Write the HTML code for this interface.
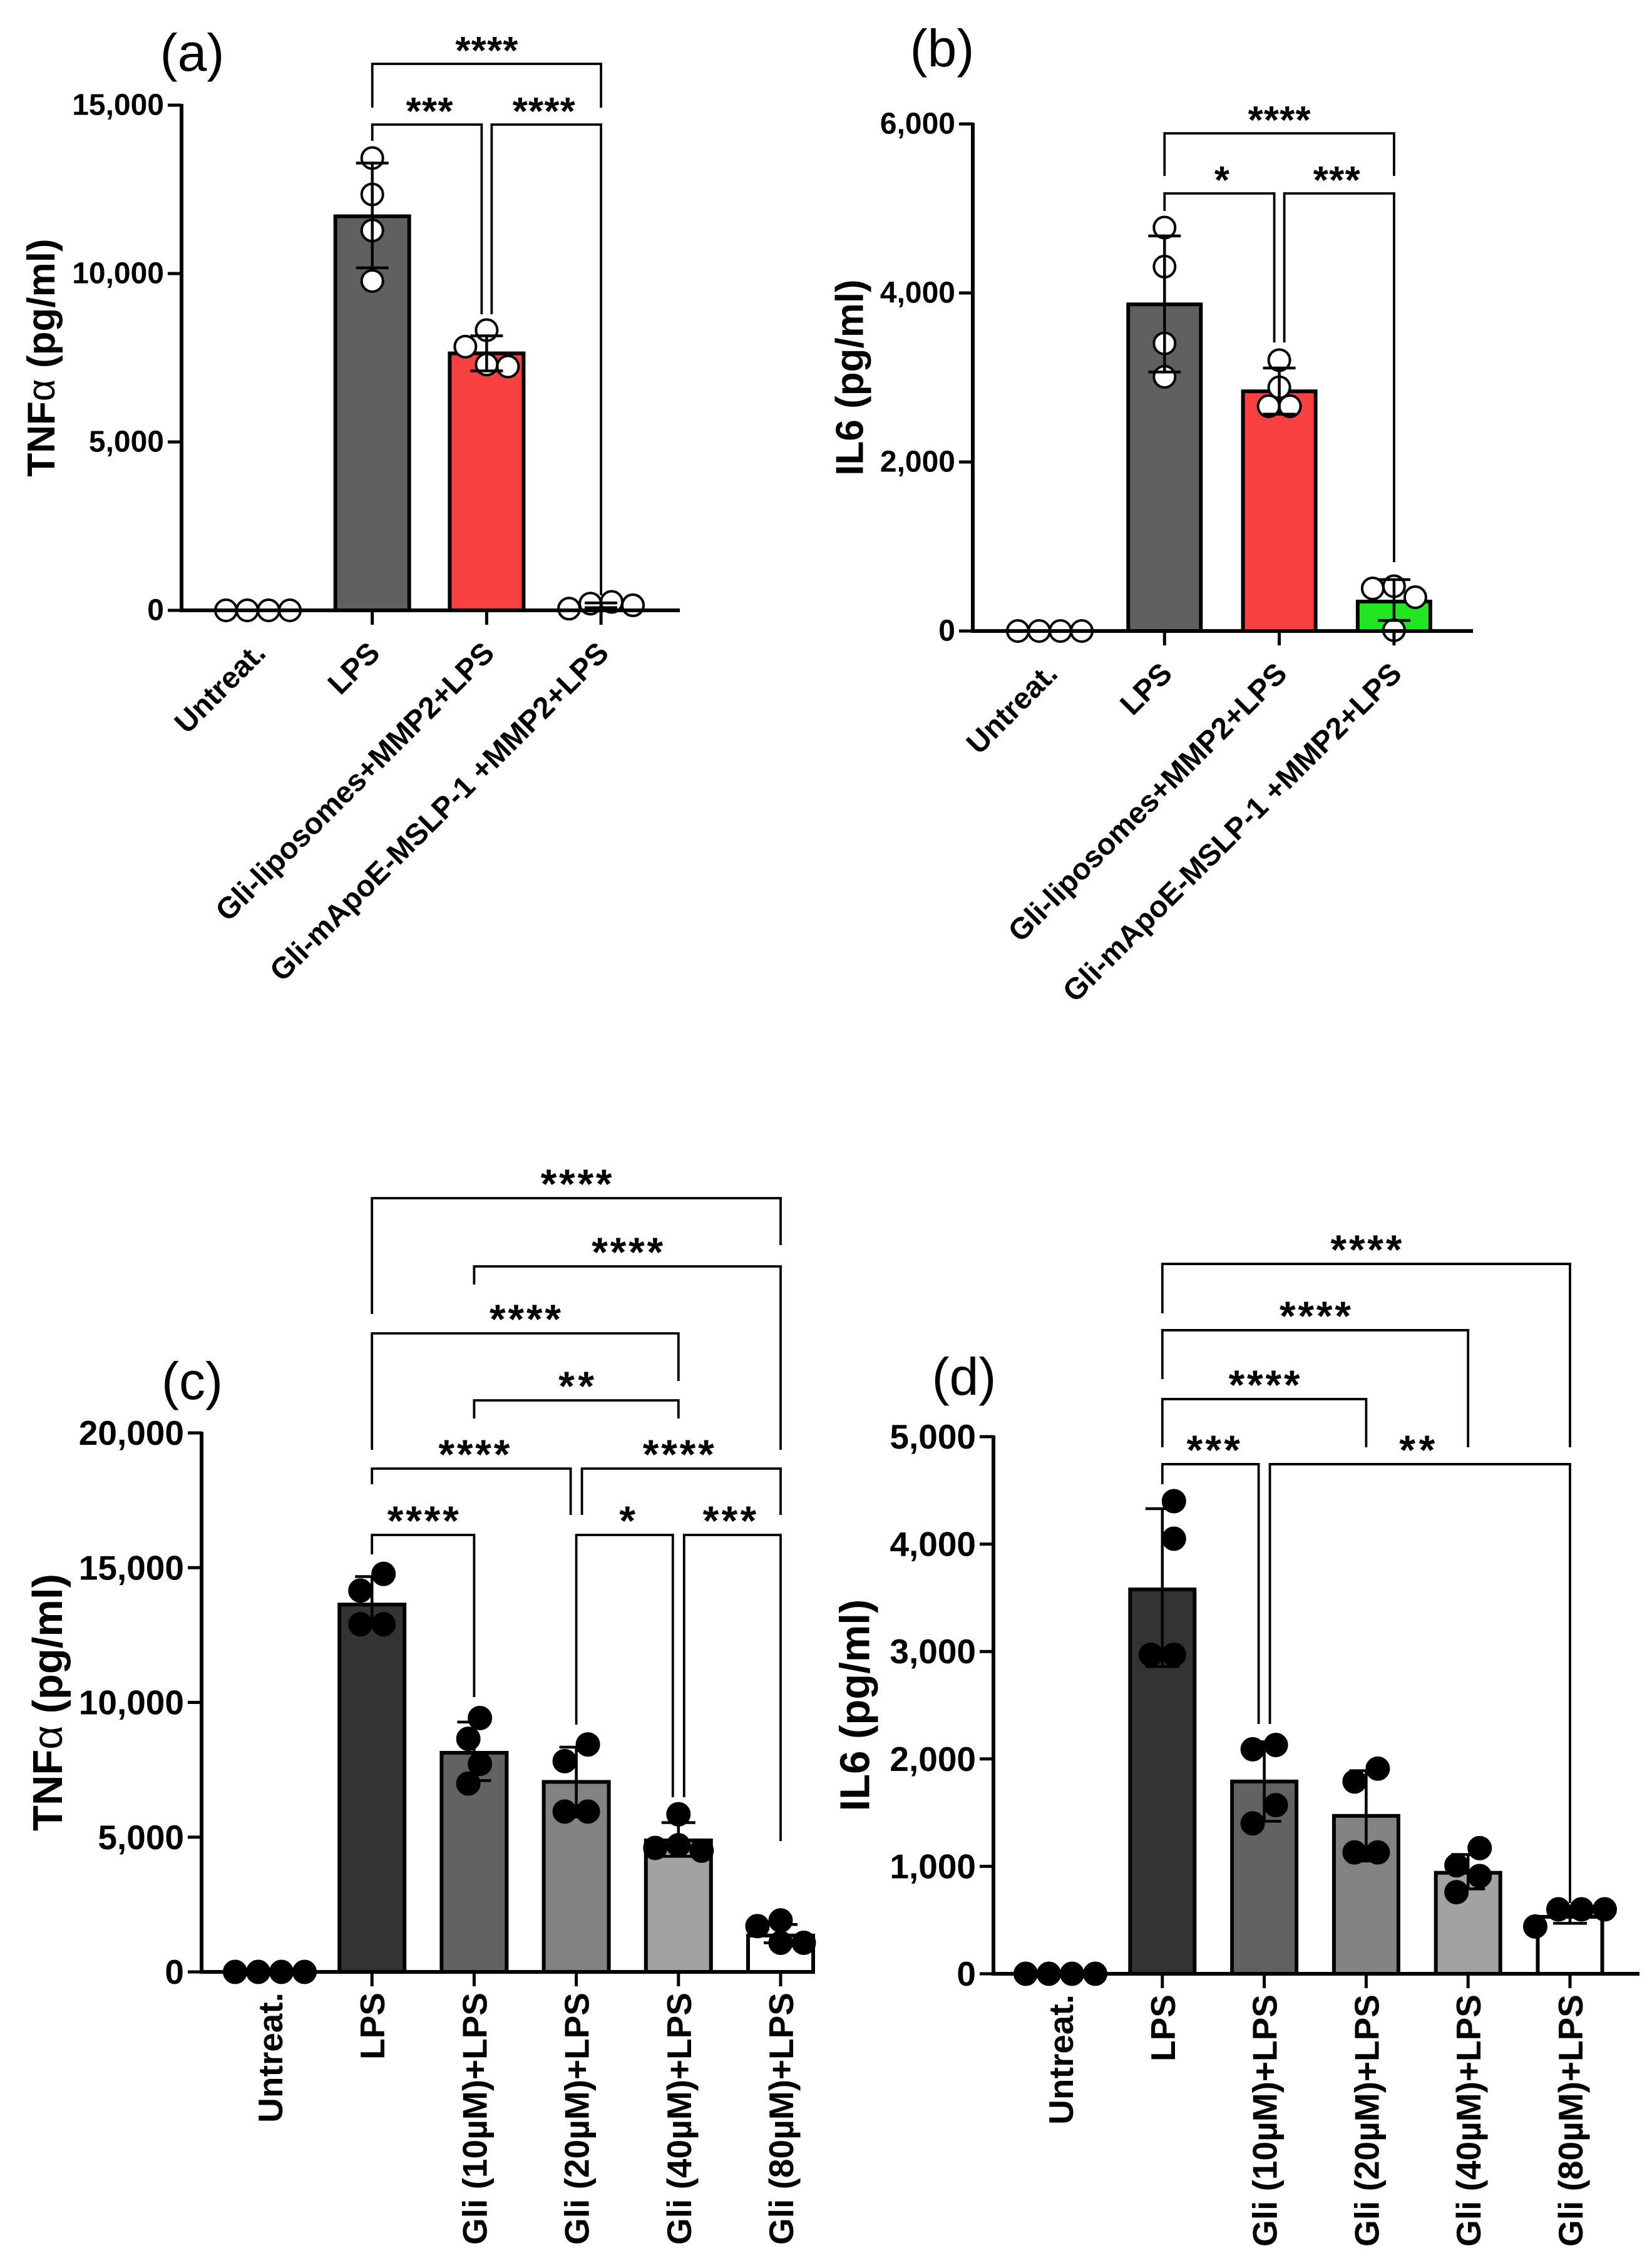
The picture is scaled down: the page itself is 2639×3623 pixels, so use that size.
<!DOCTYPE html>
<html><head><meta charset="utf-8"><style>
html,body{margin:0;padding:0;background:#fff;}
svg{display:block;}
text{font-family:"Liberation Sans",Arial,sans-serif;}
</style></head><body>
<svg id="fig" xmlns="http://www.w3.org/2000/svg" width="2639" height="3623" viewBox="0 0 2639 3623"></svg>
<script>
// ---------- Panel (a) data ----------
const catsA = ["Untreat.","LPS","Gli-liposomes+MMP2+LPS","Gli-mApoE-MSLP-1 +MMP2+LPS"];
const meanA = [0,11700,7630,150];
const sdHiA = [0,13280,8150,220];
const sdLoA = [0,10170,7110,80];
const ptsA = [[0,0,0,0],[13430,12350,11280,9780],[8320,7830,7300,7240],[250,50,200,150]];
const ticksA = [0,5000,10000,15000];
const tickLabA = ["0","5,000","10,000","15,000"];
const sigPairsA = [[1,3],[1,2],[2,3]];
const sigTextA = ["****","***","****"];
const sigLineA = [16227,14424,14424];
const sigLegA = [[14926,14926],[13940,8792],[8792,446]];
const sigNudgeA = [[0,0],[0,-1],[1,0]];

// ---------- Panel (b) data ----------
const catsB = ["Untreat.","LPS","Gli-liposomes+MMP2+LPS","Gli-mApoE-MSLP-1 +MMP2+LPS"];
const meanB = [0,3865,2836,348];
const sdHiB = [0,4675,3112,608];
const sdLoB = [0,3065,2566,125];
const ptsB = [[0,0,0,0],[4774,4312,3403,3008],[3205,2883,2660,2660],[530,504,400,10]];
const ticksB = [0,2000,4000,6000];
const tickLabB = ["0","2,000","4,000","6,000"];
const sigPairsB = [[1,3],[1,2],[2,3]];
const sigTextB = ["****","*","***"];
const sigLineB = [5889,5178,5178];
const sigLegB = [[5385,5385],[4970,3415],[3415,815]];
const sigNudgeB = [[0,0],[0,-1],[1,0]];

// ---------- Panel (c) data ----------
const catsC = ["Untreat.","LPS","Gli (10µM)+LPS","Gli (20µM)+LPS","Gli (40µM)+LPS","Gli (80µM)+LPS"];
const meanC = [0,13630,8130,7050,4880,1350];
const sdHiC = [0,14670,9270,8340,5540,1760];
const sdLoC = [0,12800,7100,5750,4290,1080];
const ptsC = [[0,0,0,0],[14770,14150,12900,12900],[9420,8650,7720,6990],[8440,7820,5950,5950],[5850,4700,4600,4500],[1910,1700,1080,1080]];
const ticksC = [0,5000,10000,15000,20000];
const tickLabC = ["0","5,000","10,000","15,000","20,000"];
const sigPairsC = [[1,5],[2,5],[1,4],[2,4],[1,3],[3,5],[1,2],[3,4],[4,5]];
const sigTextC = ["****","****","****","**","****","****","****","*","***"];
const sigLineC = [28711,26179,23693,21208,18676,18676,16214,16214,16214];
const sigLegC = [[24413,26969],[25505,19373],[19373,21928],[20534,20534],[18095,16957],[16957,16957],[15494,10197],[9175,6481],[6481,4855]];
const sigNudgeC = [[0,0],[0,0],[0,0],[0,0],[0,-1],[1,0],[0,0],[0,-1],[1,0]];

// ---------- Panel (d) data ----------
const catsD = ["Untreat.","LPS","Gli (10µM)+LPS","Gli (20µM)+LPS","Gli (40µM)+LPS","Gli (80µM)+LPS"];
const meanD = [0,3578,1790,1470,940,530];
const sdHiD = [0,4330,2160,1890,1110,580];
const sdLoD = [0,2860,1420,1050,790,470];
const ptsD = [[0,0,0,0],[4400,4050,2970,2970],[2130,2090,1570,1400],[1910,1790,1130,1130],[1170,1010,910,760],[600,600,600,440]];
const ticksD = [0,1000,2000,3000,4000,5000];
const tickLabD = ["0","1,000","2,000","3,000","4,000","5,000"];
const sigPairsD = [[1,5],[1,4],[1,3],[1,2],[2,5]];
const sigTextD = ["****","****","****","***","**"];
const sigLineD = [6608,5991,5350,4744,4744];
const sigLegD = [[6148,4901],[5536,4901],[4901,4901],[4557,2325],[2325,659]];
const sigNudgeD = [[0,0],[0,0],[0,0],[0,-1],[1,0]];

const NS = "http://www.w3.org/2000/svg";
const svg = document.getElementById('fig');
function mk(tag, attrs, parent){
  const e = document.createElementNS(NS, tag);
  for (const k in attrs) e.setAttribute(k, attrs[k]);
  parent.appendChild(e);
  return e;
}

function drawPanel(cfg, d){
  const g = mk('g', {}, svg);
  
  
  const yS = v => cfg.y0 - (v / cfg.ymax) * (cfg.y0 - cfg.yTop);
  const xS = i => cfg.first + i * cfg.step;

  const pl = mk('text', {x: cfg.letter[0], y: cfg.letter[1], 'font-size': cfg.letterFont, 'text-anchor':'middle', 'dominant-baseline':'central'}, g);
  pl.textContent = '(' + cfg.id + ')';
  
  

  const yc = (cfg.y0 + cfg.yTop) / 2;
  const yt = mk('text', {x: cfg.titleX, y: yc, 'font-size': cfg.titleFont, 'font-weight':'bold', 'text-anchor':'middle', 'dominant-baseline':'central', transform:'rotate(-90 '+cfg.titleX+' '+yc+')'}, g);
  
  
  if (cfg.alpha){
    const t1 = mk('tspan', {}, yt); t1.textContent = 'TNF';
    const t2 = mk('tspan', {'font-weight':'normal'}, yt); t2.textContent = 'α';
    const t3 = mk('tspan', {}, yt); t3.textContent = ' (pg/ml)';
  } else yt.textContent = cfg.title;

  d.mean.forEach((m, i) => {
    if (m <= 0) return;
    const bw = cfg.barW;
    const r = mk('rect', {x: xS(i) - bw/2, y: yS(m), width: bw, height: cfg.y0 - yS(m), fill: cfg.colors[i], stroke:'#000', 'stroke-width': cfg.barStroke}, g);
    
    
  });

  d.pts.forEach((arr, i) => {
    const placed = [];
    const order = arr.map((v, k) => [v, k]).sort((a, b) => b[0] - a[0]);
    const step = cfg.r;
    order.forEach(([v]) => {
      const py = yS(v);
      let off = 0;
      for (let s = 0; s < 20; s++){
        const cands = s === 0 ? [0] : [-s*step, s*step];
        let ok = null;
        for (const c of cands){
          if (placed.every(p => Math.hypot(p[0]-c, p[1]-py) >= cfg.r*cfg.coll)) { ok = c; break; }
        }
        if (ok !== null){ off = ok; break; }
      }
      placed.push([off, py]);
    });
    const mn = Math.min(...placed.map(p => p[0])), mx = Math.max(...placed.map(p => p[0]));
    const sh = -(mn + mx) / 2;
    placed.forEach(p => {
      const c = mk('circle', {cx: xS(i) + p[0] + sh, cy: p[1], r: cfg.r, fill: cfg.open ? '#fff' : '#000', stroke:'#000', 'stroke-width': cfg.open ? 4 : 2}, g);
      
      
    });
  });

  d.mean.forEach((m, i) => {
    if (d.hi[i] <= 0) return;
    const x = xS(i), cw = cfg.capW;
    const eg = mk('g', {stroke:'#000', 'stroke-width': 4.5}, g);
    
    
    mk('line', {x1:x, x2:x, y1:yS(d.hi[i]), y2:yS(d.lo[i])}, eg);
    mk('line', {x1:x-cw/2, x2:x+cw/2, y1:yS(d.hi[i]), y2:yS(d.hi[i])}, eg);
    mk('line', {x1:x-cw/2, x2:x+cw/2, y1:yS(d.lo[i]), y2:yS(d.lo[i])}, eg);
  });

  const ax = mk('g', {stroke:'#000', 'stroke-width': cfg.axisW, fill:'none'}, g);
  
  
  mk('line', {x1: cfg.ax, x2: cfg.ax, y1: cfg.y0, y2: cfg.yTop - 2}, ax);
  mk('line', {x1: cfg.ax - cfg.axisW/2, x2: cfg.xEnd, y1: cfg.y0, y2: cfg.y0}, ax);
  d.ticks.forEach((t, k) => {
    const y = yS(t);
    mk('line', {x1: cfg.ax - 22, x2: cfg.ax, y1: y, y2: y, 'stroke-width': 5}, ax);
    const tl = mk('text', {x: cfg.ax - 28, y: y, 'font-size': cfg.tickFont, 'font-weight':'bold', 'text-anchor':'end', 'dominant-baseline':'central', stroke:'none', fill:'#000'}, g);
    tl.textContent = d.tickLab[k];
    
    
  });
  d.cats.forEach((c, i) => {
    const x = xS(i);
    if (i > 0) mk('line', {x1:x, x2:x, y1:cfg.y0, y2:cfg.y0 + 23, 'stroke-width': 5}, ax);
    let t;
    if (cfg.rot === -45){
      const ax0 = x + 15, ay0 = cfg.y0 + 71;
      t = mk('text', {x: ax0, y: ay0, 'font-size': cfg.xFont, 'font-weight':'bold', 'text-anchor':'end', transform:'rotate(-45 '+ax0+' '+ay0+')'}, g);
    } else {
      const ax0 = x + 20, ay0 = cfg.y0 + 33;
      t = mk('text', {x: ax0, y: ay0, 'font-size': cfg.xFont, 'font-weight':'bold', 'text-anchor':'end', transform:'rotate(-90 '+ax0+' '+ay0+')'}, g);
    }
    t.textContent = c;
    
    
  });

  d.sigPairs.forEach((p, k) => {
    const xa = xS(p[0]) + d.sigNudge[k][0] * cfg.nudge;
    const xb = xS(p[1]) + d.sigNudge[k][1] * cfg.nudge;
    const yl = yS(d.sigLine[k]);
    const bg = mk('g', {}, g);
    
    
    mk('polyline', {points: xa+','+yS(d.sigLeg[k][0])+' '+xa+','+yl+' '+xb+','+yl+' '+xb+','+yS(d.sigLeg[k][1]), fill:'none', stroke:'#000', 'stroke-width': 3.8}, bg);
    const n = d.sigText[k].length;
    const st = mk('text', {x: (xS(p[0]) + xS(p[1]))/2, y: yl + cfg.starDy, 'font-size': cfg.starFont, 'font-weight':'bold', 'text-anchor':'middle', textLength: n * cfg.starW, lengthAdjust:'spacing'}, bg);
    st.textContent = d.sigText[k];
  });
}

const topCfg = {letterFont: 84, titleFont: 62, tickFont: 48, xFont: 48, barStroke: 6, axisW: 6, r: 17, open: true, coll: 1.9, capW: 52, rot: -45, nudge: 8, starFont: 62, starW: 25, starDy: 0};
const botCfg = {letterFont: 84, titleFont: 67, tickFont: 55, xFont: 55, barStroke: 6, axisW: 6, r: 18.5, open: false, coll: 1.9, capW: 54, rot: -90, nudge: 9, starFont: 66, starW: 28.5, starDy: 0};

drawPanel(Object.assign({}, topCfg, {id:'a', ax:290, y0:975, yTop:168, ymax:15000, first:412, step:182.7, xEnd:1086, barW:118, titleX:66, alpha:true, letter:[307,84], colors:['#fff','#606060','#f84040','#22e622']}),
  {cats:catsA, mean:meanA, hi:sdHiA, lo:sdLoA, pts:ptsA, ticks:ticksA, tickLab:tickLabA, sigPairs:sigPairsA, sigText:sigTextA, sigLine:sigLineA, sigLeg:sigLegA, sigNudge:sigNudgeA});
drawPanel(Object.assign({}, topCfg, {id:'b', ax:1554, y0:1008, yTop:198, ymax:6000, first:1677, step:183.3, xEnd:2353, barW:116, titleX:1358, title:'IL6 (pg/ml)', letter:[1505,77], colors:['#fff','#606060','#f84040','#22e622']}),
  {cats:catsB, mean:meanB, hi:sdHiB, lo:sdLoB, pts:ptsB, ticks:ticksB, tickLab:tickLabB, sigPairs:sigPairsB, sigText:sigTextB, sigLine:sigLineB, sigLeg:sigLegB, sigNudge:sigNudgeB});
drawPanel(Object.assign({}, botCfg, {id:'c', ax:322, y0:3150, yTop:2289, ymax:20000, first:431, step:163.2, xEnd:1300, barW:104, titleX:76, alpha:true, letter:[307,2206], colors:['#fff','#333333','#626262','#838383','#a2a2a5','#ffffff']}),
  {cats:catsC, mean:meanC, hi:sdHiC, lo:sdLoC, pts:ptsC, ticks:ticksC, tickLab:tickLabC, sigPairs:sigPairsC, sigText:sigTextC, sigLine:sigLineC, sigLeg:sigLegC, sigNudge:sigNudgeC});
drawPanel(Object.assign({}, botCfg, {id:'d', ax:1587, y0:3153, yTop:2295, ymax:5000, first:1694, step:162.8, xEnd:2619, barW:103, titleX:1366, title:'IL6 (pg/ml)', letter:[1540,2199], colors:['#fff','#333333','#626262','#838383','#a2a2a5','#ffffff']}),
  {cats:catsD, mean:meanD, hi:sdHiD, lo:sdLoD, pts:ptsD, ticks:ticksD, tickLab:tickLabD, sigPairs:sigPairsD, sigText:sigTextD, sigLine:sigLineD, sigLeg:sigLegD, sigNudge:sigNudgeD});
</script>
</body></html>
